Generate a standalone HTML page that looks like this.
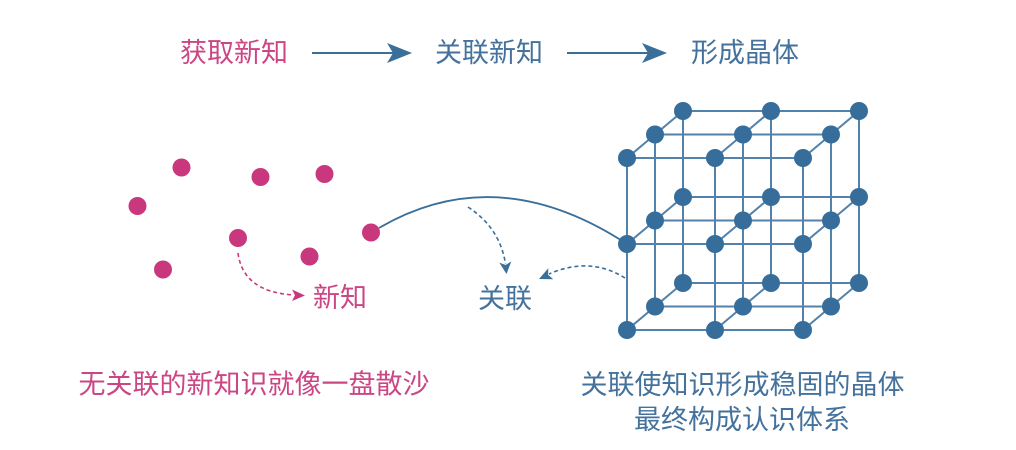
<!DOCTYPE html>
<html>
<head>
<meta charset="utf-8">
<style>
html,body{margin:0;padding:0;background:#fff;}
body{width:1016px;height:450px;overflow:hidden;}
svg{display:block;}
text{font-family:"Liberation Sans","Noto Sans CJK SC",sans-serif;font-size:27px;}
.pk{fill:#cb4684;}
.bl{fill:#44729c;}
</style>
</head>
<body>
<svg width="1016" height="450" viewBox="0 0 1016 450" xmlns="http://www.w3.org/2000/svg">
  <!-- top row -->
  <text class="pk" x="234" y="62" text-anchor="middle">获取新知</text>
  <text class="bl" x="489" y="62" text-anchor="middle">关联新知</text>
  <text class="bl" x="745" y="62" text-anchor="middle">形成晶体</text>

  <line x1="312" y1="53" x2="396" y2="53" stroke="#3a6f9a" stroke-width="2"/>
  <polygon points="412,53 387,43 393,53 387,63" fill="#3a6f9a"/>
  <line x1="567" y1="53" x2="651" y2="53" stroke="#3a6f9a" stroke-width="2"/>
  <polygon points="667,53 642,43 648,53 642,63" fill="#3a6f9a"/>

  <!-- pink dots -->
  <g fill="#c9387c">
    <circle cx="181.5" cy="167.5" r="9"/>
    <circle cx="260.5" cy="177" r="9"/>
    <circle cx="324.5" cy="174" r="9"/>
    <circle cx="137.5" cy="206" r="9"/>
    <circle cx="238" cy="238" r="9"/>
    <circle cx="371" cy="232.5" r="9"/>
    <circle cx="309.5" cy="256.5" r="9"/>
    <circle cx="163" cy="269.5" r="9"/>
  </g>

  <!-- pink dashed arrow -->
  <path d="M238,253 Q243,292 294,295" fill="none" stroke="#c9387c" stroke-width="1.6" stroke-dasharray="4,3"/>
  <polygon points="305,295.5 292,289.5 295,295.3 292,301" fill="#c9387c"/>
  <text class="pk" x="340" y="307" text-anchor="middle">新知</text>

  <!-- main blue curve -->
  <path d="M379,228 Q497,159 627,244" fill="none" stroke="#3a6f9a" stroke-width="1.8"/>

  <!-- blue dashed arrows -->
  <path d="M468,207 Q500,228 505.5,264" fill="none" stroke="#3a6f9a" stroke-width="1.6" stroke-dasharray="4,3"/>
  <polygon points="506.5,274 499.3,262.6 505.6,265 511.3,261.4" fill="#3a6f9a"/>
  <path d="M625,278 Q590,256 549,274" fill="none" stroke="#3a6f9a" stroke-width="1.6" stroke-dasharray="4,3"/>
  <polygon points="539,279 548.3,268.2 548.1,274.9 553.3,279.2" fill="#3a6f9a"/>
  <text class="bl" x="505" y="308" text-anchor="middle">关联</text>

  <!-- cube lattice lines -->
  <g stroke="#5282ab" stroke-width="2" fill="none">
    <!-- x-direction -->
    <line x1="627" y1="158" x2="803" y2="158"/>
    <line x1="627" y1="244" x2="803" y2="244"/>
    <line x1="627" y1="330" x2="803" y2="330"/>
    <line x1="655" y1="134.5" x2="831" y2="134.5"/>
    <line x1="655" y1="220.5" x2="831" y2="220.5"/>
    <line x1="655" y1="306.5" x2="831" y2="306.5"/>
    <line x1="683" y1="111" x2="859" y2="111"/>
    <line x1="683" y1="197" x2="859" y2="197"/>
    <line x1="683" y1="283" x2="859" y2="283"/>
    <!-- vertical -->
    <line x1="627" y1="158" x2="627" y2="330"/>
    <line x1="715" y1="158" x2="715" y2="330"/>
    <line x1="803" y1="158" x2="803" y2="330"/>
    <line x1="655" y1="134.5" x2="655" y2="306.5"/>
    <line x1="743" y1="134.5" x2="743" y2="306.5"/>
    <line x1="831" y1="134.5" x2="831" y2="306.5"/>
    <line x1="683" y1="111" x2="683" y2="283"/>
    <line x1="771" y1="111" x2="771" y2="283"/>
    <line x1="859" y1="111" x2="859" y2="283"/>
    <!-- depth -->
    <line x1="627" y1="158" x2="683" y2="111"/>
    <line x1="715" y1="158" x2="771" y2="111"/>
    <line x1="803" y1="158" x2="859" y2="111"/>
    <line x1="627" y1="244" x2="683" y2="197"/>
    <line x1="715" y1="244" x2="771" y2="197"/>
    <line x1="803" y1="244" x2="859" y2="197"/>
    <line x1="627" y1="330" x2="683" y2="283"/>
    <line x1="715" y1="330" x2="771" y2="283"/>
    <line x1="803" y1="330" x2="859" y2="283"/>
  </g>

  <!-- cube nodes -->
  <g fill="#376d9b">
    <circle cx="683" cy="111" r="9"/><circle cx="771" cy="111" r="9"/><circle cx="859" cy="111" r="9"/>
    <circle cx="683" cy="197" r="9"/><circle cx="771" cy="197" r="9"/><circle cx="859" cy="197" r="9"/>
    <circle cx="683" cy="283" r="9"/><circle cx="771" cy="283" r="9"/><circle cx="859" cy="283" r="9"/>
    <circle cx="655" cy="134.5" r="9"/><circle cx="743" cy="134.5" r="9"/><circle cx="831" cy="134.5" r="9"/>
    <circle cx="655" cy="220.5" r="9"/><circle cx="743" cy="220.5" r="9"/><circle cx="831" cy="220.5" r="9"/>
    <circle cx="655" cy="306.5" r="9"/><circle cx="743" cy="306.5" r="9"/><circle cx="831" cy="306.5" r="9"/>
    <circle cx="627" cy="158" r="9"/><circle cx="715" cy="158" r="9"/><circle cx="803" cy="158" r="9"/>
    <circle cx="627" cy="244" r="9"/><circle cx="715" cy="244" r="9"/><circle cx="803" cy="244" r="9"/>
    <circle cx="627" cy="330" r="9"/><circle cx="715" cy="330" r="9"/><circle cx="803" cy="330" r="9"/>
  </g>

  <!-- bottom captions -->
  <text class="pk" x="254" y="393.5" text-anchor="middle">无关联的新知识就像一盘散沙</text>
  <text class="bl" x="742.5" y="394" text-anchor="middle">关联使知识形成稳固的晶体</text>
  <text class="bl" x="742" y="429" text-anchor="middle">最终构成认识体系</text>
</svg>
</body>
</html>
